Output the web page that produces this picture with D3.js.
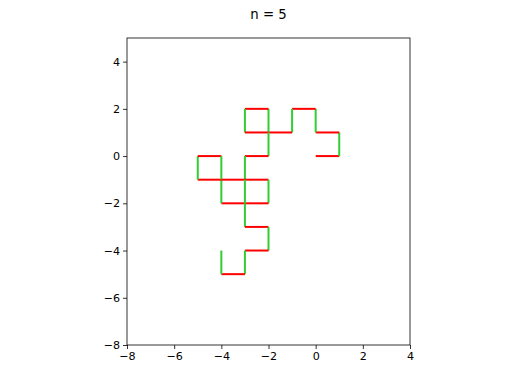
<!DOCTYPE html>
<html>
<head>
<meta charset="utf-8">
<script src="https://cdn.jsdelivr.net/npm/d3@7"></script>
<style>
  body { margin: 0; background: #fff; }
  svg { font-family: "DejaVu Sans", sans-serif; }
</style>
</head>
<body>
<div id="chart"></div>
<script>
// walk vertices, in order
var xs = [0, 1, 1, 0, 0, -1, -1, -2, -2, -3, -3, -2, -2, -3, -3, -2, -2, -3, -4, -4, -5, -5, -4, -4, -3, -3, -3, -2, -2, -3, -3, -4, -4];
var ys = [0, 0, 1, 1, 2, 2, 1, 1, 2, 2, 1, 1, 0, 0, -1, -1, -2, -2, -2, -1, -1, 0, 0, -1, -1, -2, -3, -3, -4, -4, -5, -5, -4];
var xTicks = [-8, -6, -4, -2, 0, 2, 4];
var yTicks = [-8, -6, -4, -2, 0, 2, 4];
var title = "n = 5";

var W = 512, H = 384;
var margin = {top: 38, right: 102, bottom: 39, left: 127};
var width = W - margin.left - margin.right,
    height = H - margin.top - margin.bottom;

var svg = d3.select("#chart").append("svg")
    .attr("width", W)
    .attr("height", H);

var g = svg.append("g")
    .attr("transform", "translate(" + margin.left + "," + margin.top + ")");

var x = d3.scaleLinear().domain([-8, 4]).range([0, width]);
var y = d3.scaleLinear().domain([-8, 5]).range([height, 0]);

// segments: horizontal red, vertical green
var segs = [];
for (var i = 0; i < xs.length - 1; i++) {
  segs.push({x1: xs[i], y1: ys[i], x2: xs[i + 1], y2: ys[i + 1]});
}

g.selectAll("line.seg")
  .data(segs)
  .enter()
  .append("line")
    .attr("class", "seg")
    .attr("x1", function(d) { return x(d.x1); })
    .attr("y1", function(d) { return y(d.y1); })
    .attr("x2", function(d) { return x(d.x2); })
    .attr("y2", function(d) { return y(d.y2); })
    .attr("stroke", function(d) { return d.y1 === d.y2 ? "#ff0000" : "#32cd32"; })
    .attr("stroke-width", 2);

// axes
var xAxis = g.append("g")
  .attr("transform", "translate(0," + height + ")")
  .call(d3.axisBottom(x).tickValues(xTicks).tickSize(4).tickPadding(3)
        .tickFormat(function(d) { return d < 0 ? "\u2212" + Math.abs(d) : d; }));
var yAxis = g.append("g")
  .call(d3.axisLeft(y).tickValues(yTicks).tickSize(4).tickPadding(3)
        .tickFormat(function(d) { return d < 0 ? "\u2212" + Math.abs(d) : d; }));

[xAxis, yAxis].forEach(function(a) {
  a.select(".domain").remove();
  a.selectAll("text").attr("font-size", 11.1).attr("fill", "#000")
    .attr("font-family", "DejaVu Sans");
  a.selectAll("line").attr("stroke", "#000").attr("stroke-width", 0.8);
});

// frame
g.append("rect")
  .attr("width", width)
  .attr("height", height)
  .attr("fill", "none")
  .attr("stroke", "#000")
  .attr("stroke-width", 0.8);

svg.append("text")
  .attr("x", margin.left + width / 2)
  .attr("y", 19)
  .attr("text-anchor", "middle")
  .attr("font-size", 13.3)
  .attr("fill", "#000")
  .text(title);
</script>
</body>
</html>
